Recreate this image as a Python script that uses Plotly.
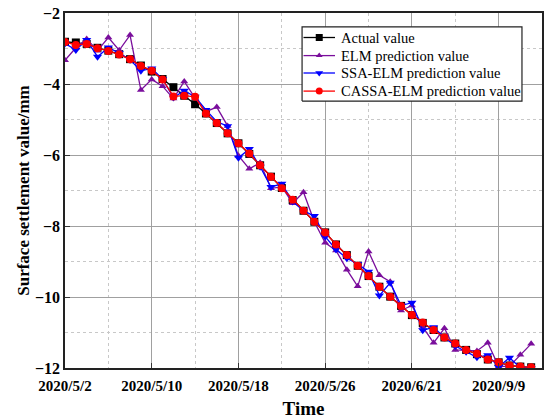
import plotly.graph_objects as go

# Monitoring dates shown on the time axis (every 8th sample)
tick_labels = ["2020/5/2", "2020/5/10", "2020/5/18", "2020/5/26", "2020/6/21", "2020/9/9"]
tick_step = 8

actual = [-2.81, -2.83, -2.87, -2.98, -3.06, -3.16, -3.30, -3.48, -3.65, -3.86,
          -4.09, -4.33, -4.57, -4.83, -5.10, -5.39, -5.67, -5.97, -6.29, -6.61,
          -6.93, -7.27, -7.57, -7.88, -8.18, -8.52, -8.82, -9.12, -9.41, -9.71,
          -9.99, -10.25, -10.51, -10.73, -10.93, -11.14, -11.31, -11.49, -11.61, -11.76,
          -11.84, -11.93, -11.96, -11.98]

elm = [-3.33, -2.98, -2.73, -3.06, -2.69, -3.05, -2.62, -4.17, -3.87, -4.06,
       -4.41, -3.93, -4.40, -4.78, -4.65, -5.18, -6.02, -6.39, -6.22, -6.94,
       -6.90, -7.36, -7.05, -7.88, -8.47, -8.69, -9.23, -9.70, -8.72, -9.39,
       -9.57, -10.38, -10.24, -10.84, -11.29, -10.88, -11.49, -11.51, -11.52, -11.29,
       -11.96, -11.95, -11.63, -11.32]

ssa_elm = [-2.86, -3.04, -2.76, -3.23, -2.97, -3.13, -3.32, -3.63, -3.56, -3.86,
           -4.38, -4.19, -4.36, -4.73, -5.06, -5.19, -6.08, -5.83, -6.33, -6.90,
           -6.81, -7.31, -7.57, -7.72, -8.30, -8.66, -8.91, -9.07, -9.29, -9.96,
           -9.60, -10.24, -10.16, -10.94, -10.85, -11.14, -11.38, -11.54, -11.70, -11.64,
           -11.97, -11.71, -11.99, -12.00]

cassa_elm = [-2.82, -2.90, -2.87, -2.99, -3.07, -3.17, -3.30, -3.49, -3.63, -3.87,
             -4.35, -4.33, -4.36, -4.83, -5.10, -5.39, -5.67, -5.96, -6.29, -6.61,
             -6.94, -7.26, -7.57, -7.88, -8.18, -8.52, -8.82, -9.12, -9.41, -9.71,
             -9.99, -10.25, -10.51, -10.72, -10.93, -11.14, -11.31, -11.49, -11.60, -11.76,
             -11.84, -11.93, -11.96, -11.98]

x = list(range(len(actual)))

series = [
    ("Actual value", actual, "#000000", "square", 8),
    ("ELM prediction value", elm, "#7A0E9C", "triangle-up", 7),
    ("SSA-ELM prediction value", ssa_elm, "#0000FF", "triangle-down", 8),
    ("CASSA-ELM prediction value", cassa_elm, "#FF0000", "circle", 8),
]

serif = "Liberation Serif"

fig = go.Figure()
for name, vals, color, symbol, size in series:
    fig.add_trace(go.Scatter(
        x=x, y=vals, name=name, mode="lines+markers",
        line=dict(color=color, width=1.3),
        marker=dict(symbol=symbol, size=size, color=color, line=dict(width=0)),
        showlegend=False,
    ))

# Legend drawn on an overlay axis spanning the plot area in unit coordinates
box_x = [0.497, 0.958]
box_y = [0.752, 0.961]
row_y = [0.931, 0.880, 0.831, 0.780]
sample_x = [0.500, 0.566]
marker_x = 0.533
text_x = 0.575

fig.add_trace(go.Scatter(
    x=[box_x[0], box_x[1], box_x[1], box_x[0], box_x[0]],
    y=[box_y[0], box_y[0], box_y[1], box_y[1], box_y[0]],
    mode="lines", fill="toself", fillcolor="white",
    line=dict(color="#222222", width=1.2),
    xaxis="x2", yaxis="y2", showlegend=False, hoverinfo="skip",
))
for (name, vals, color, symbol, size), ry in zip(series, row_y):
    fig.add_trace(go.Scatter(
        x=sample_x, y=[ry, ry], mode="lines",
        line=dict(color=color, width=1.3),
        xaxis="x2", yaxis="y2", showlegend=False, hoverinfo="skip",
    ))
    fig.add_trace(go.Scatter(
        x=[marker_x], y=[ry], mode="markers",
        marker=dict(symbol=symbol, size=size - 1, color=color, line=dict(width=0)),
        xaxis="x2", yaxis="y2", showlegend=False, hoverinfo="skip",
    ))
    fig.add_annotation(
        x=text_x, y=ry, xref="x2", yref="y2", text=name, showarrow=False,
        xanchor="left", yanchor="middle",
        font=dict(family=serif, size=14.5, color="black"),
    )

fig.update_layout(
    width=555, height=419,
    margin=dict(l=65, r=13, t=13, b=51),
    paper_bgcolor="white", plot_bgcolor="white",
    font=dict(family=serif, color="black"),
    xaxis=dict(
        range=[0, len(actual)],
        automargin=False,
        tickmode="array",
        tickvals=[i * tick_step for i in range(len(tick_labels))],
        ticktext=["<b>%s</b>" % t for t in tick_labels],
        tickfont=dict(family=serif, size=15, color="black"),
        ticks="inside", ticklen=5, tickcolor="#333333",
        ticklabelstandoff=3,
        showgrid=True, gridcolor="#A0A0A0", gridwidth=1,
        minor=dict(dtick=tick_step / 2, tick0=tick_step / 2, showgrid=True,
                   gridcolor="#C8C8C8", griddash="dot", gridwidth=1),
        showline=True, linecolor="#222222", linewidth=1.5, mirror=True,
        zeroline=False,
        title=dict(text="<b>Time</b>", font=dict(family=serif, size=19, color="black"), standoff=17),
    ),
    yaxis=dict(
        range=[-12, -2],
        automargin=False,
        tickmode="linear", tick0=-12, dtick=2,
        tickprefix="<b>", ticksuffix="</b>",
        tickfont=dict(family=serif, size=16, color="black"),
        ticks="inside", ticklen=5, tickcolor="#333333",
        showgrid=True, gridcolor="#A0A0A0", gridwidth=1,
        minor=dict(dtick=1, showgrid=True, gridcolor="#C8C8C8", griddash="dot", gridwidth=1),
        showline=True, linecolor="#222222", linewidth=1.5, mirror=True,
        zeroline=False,
        title=dict(text="<b>Surface settlement value/mm</b>",
                   font=dict(family=serif, size=17, color="black"), standoff=1),
    ),
    xaxis2=dict(overlaying="x", range=[0, 1], visible=False, fixedrange=True),
    yaxis2=dict(overlaying="y", range=[0, 1], visible=False, fixedrange=True),
)

fig.write_html("out.html")
